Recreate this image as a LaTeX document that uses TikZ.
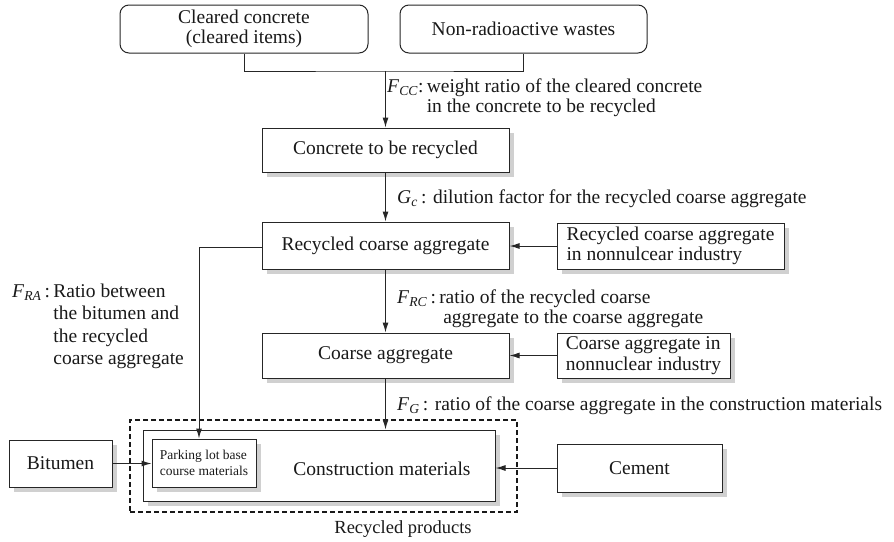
\documentclass[tikz,border=0pt]{standalone}
\usepackage{fontspec}
\setmainfont{Liberation Serif}
\usetikzlibrary{arrows.meta,calc}

\definecolor{shadowgray}{HTML}{D0D0D0}
\newcommand{\sym}[2]{\textit{#1}\textsubscript{\textit{#2}}}
% gray offset rectangle behind a box
\newcommand{\boxshadow}[1]{\fill[shadowgray] ($(#1.north west)+(5,5)$) rectangle ($(#1.south east)+(5,5)$);}

\begin{document}
\begin{tikzpicture}[x=1pt,y=-1pt,
  font=\fontsize{19.5}{20.5}\selectfont,
  every node/.style={text=black!90},
  plainbox/.style={draw=black!85, line width=1pt, fill=white, inner sep=0pt, align=center},
  box/.style={plainbox},
  roundbox/.style={plainbox, rounded corners=9pt},
  link/.style={draw=black!85, line width=1pt},
  arr/.style={link, -{Latex[length=10pt,width=6pt]}},
  lbl/.style={anchor=base west, inner sep=0pt}
]
\useasboundingbox (0,0) rectangle (894,541);

% invisible placeholders fix the shadow positions first
\path (385.5,150) node[minimum width=247pt, minimum height=44pt, inner sep=0pt] (sctr) {}
      (385.5,245.5) node[minimum width=247pt, minimum height=47pt, inner sep=0pt] (srca) {}
      (385.5,355.5) node[minimum width=247pt, minimum height=45pt, inner sep=0pt] (sca) {}
      (319,465.5) node[minimum width=352pt, minimum height=71pt, inner sep=0pt] (scm) {}
      (60.5,463.5) node[minimum width=103pt, minimum height=47pt, inner sep=0pt] (sbit) {}
      (639.5,468) node[minimum width=165pt, minimum height=48pt, inner sep=0pt] (scem) {}
      (670.5,246) node[minimum width=227pt, minimum height=46pt, inner sep=0pt] (srcn) {}
      (643.5,355.5) node[minimum width=173pt, minimum height=45pt, inner sep=0pt] (scan) {};
\foreach \n in {sctr,srca,sca,scm,sbit,scem,srcn,scan} {\boxshadow{\n}}

% source boxes
\node[roundbox, minimum width=248pt, minimum height=48pt] (cc) at (244,29)
  {Cleared concrete\\(cleared items)};
\node[roundbox, minimum width=247pt, minimum height=48pt] (nrw) at (523.5,29)
  {Non-radioactive wastes};
\coordinate (join) at (385.5,71);

% main chain
\node[box, minimum width=247pt, minimum height=44pt] (ctr) at (385.5,150) {Concrete to be recycled};
\node[box, minimum width=247pt, minimum height=47pt] (rca) at (385.5,245.5) {Recycled coarse aggregate};
\node[box, minimum width=247pt, minimum height=45pt] (ca) at (385.5,355.5) {Coarse aggregate};

% recycled products
\node[draw=black!90, line width=1.2pt, dash pattern=on 5pt off 3pt,
      minimum width=387pt, minimum height=92pt, inner sep=0pt] (rp) at (323.5,466) {};
\node[anchor=base, inner sep=0pt, font=\fontsize{18.5}{20}\selectfont] (rptext) at (403,533) {Recycled products};
\node[box, minimum width=352pt, minimum height=71pt] (cm) at (319,465.5) {};
\node[inner sep=0pt] (cmtext) at (382,469) {Construction materials};
\path (204,463) node[minimum width=104pt, minimum height=48pt, inner sep=0pt] (spk) {};
\boxshadow{spk}
\node[box, minimum width=104pt, minimum height=48pt, align=left,
      font=\fontsize{13.5}{16}\selectfont] (pk) at (204,463)
  {Parking lot base\\course materials};

% side inputs
\node[box, minimum width=103pt, minimum height=47pt] (bit) at (60.5,463.5) {Bitumen};
\node[box, minimum width=165pt, minimum height=48pt] (cem) at (639.5,468) {Cement};
\node[box, minimum width=227pt, minimum height=46pt, align=left] (rcn) at (670.5,246)
  {Recycled coarse aggregate\\in nonnulcear industry};
\node[box, minimum width=173pt, minimum height=45pt, align=left] (can) at (643.5,355.5)
  {Coarse aggregate in\\nonnuclear industry};

% connectors
\draw[link] (cc.south) |- (join) -| (nrw.south);
\draw[arr] (join) -- (ctr.north);
\draw[arr] (ctr.south) -- (rca.north);
\draw[arr] (rca.south) -- (ca.north);
\draw[arr] (ca.south) -- (ca.south |- cm.north);
\coordinate (bend) at (199,247);
\draw[arr] (rca.west |- bend) -- (bend) -- (bend |- pk.north);
\draw[arr] (rcn.west) -- (rca.east |- rcn.west);
\draw[arr] (can.west) -- (ca.east |- can.west);
\draw[arr] (bit.east) -- (pk.west |- bit.east);
\draw[arr] (cem.west) -- (cm.east |- cem.west);

% factor labels
\node[lbl] (fcc) at (387,92)
  {\begin{tabular}[t]{@{}l@{\,}l@{}}\sym{F}{CC}: & weight ratio of the cleared concrete\\ & in the concrete to be recycled\end{tabular}};
\node[lbl] (gc) at (397,203) {\sym{G}{c}\,: dilution factor for the recycled coarse aggregate};
\node[lbl] (frc) at (397,303)
  {\begin{tabular}[t]{@{}l@{\,}l@{}}\sym{F}{RC}\,: & ratio of the recycled coarse\\ & \hspace{4pt}aggregate to the coarse aggregate\end{tabular}};
\node[lbl] (fg) at (397,410) {\sym{F}{G}\,: ratio of the coarse aggregate in the construction materials};
\node[lbl] (fra) at (12,297)
  {\renewcommand{\arraystretch}{1.1}\begin{tabular}[t]{@{}l@{\,}l@{}}\sym{F}{RA}\,: & Ratio between\\ & the bitumen and\\ & the recycled\\ & coarse aggregate\end{tabular}};
\end{tikzpicture}
\end{document}
